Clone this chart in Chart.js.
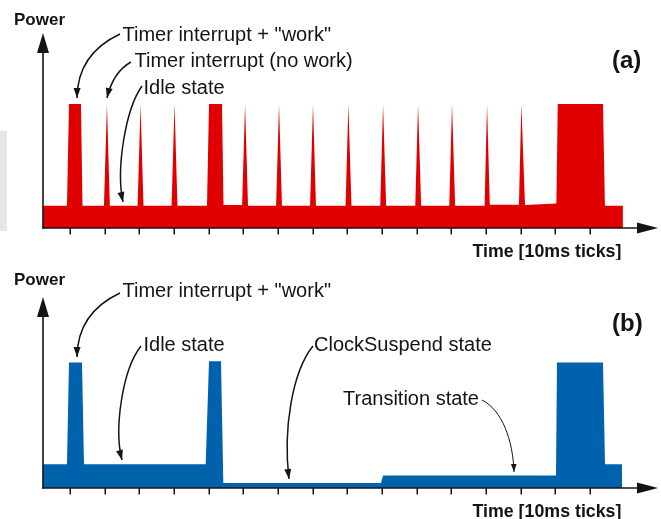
<!DOCTYPE html>
<html>
<head>
<meta charset="utf-8">
<script src="https://cdn.jsdelivr.net/npm/chart.js@4/dist/chart.umd.min.js"></script>
<style>
  html, body { margin: 0; padding: 0; background: #fff; }
  #page { position: relative; width: 661px; height: 519px; overflow: hidden; }
  canvas { position: absolute; left: 0; }
  #cA { top: 0; }
  #cB { top: 260px; }
  #edge { position: absolute; left: 0; top: 131px; width: 7px; height: 100px; background: #e6e6e6; }
</style>
</head>
<body>
<div id="page">
  <div id="edge"></div>
  <canvas id="cA" width="661" height="260"></canvas>
  <canvas id="cB" width="661" height="259"></canvas>
</div>
<script>
// Time in 10 ms ticks, power in relative units (active level = 100).
const TICKS = [1, 2, 3, 4, 5, 6, 7, 8, 9, 10, 11, 12, 13, 14, 15, 16];

// (a) periodic timer: every tick wakes the CPU, some ticks also do work
const TIME_A = [
  0.221, 0.221, 0.913, 0.971, 1.317, 1.361,
  1.98, 2.065, 2.15,
  2.95, 3.035, 3.12,
  3.93, 4.015, 4.10,
  4.952, 5.01, 5.385, 5.428,
  5.965, 6.05, 6.135,
  6.945, 7.03, 7.115,
  7.925, 8.01, 8.095,
  8.95, 9.03, 9.12,
  9.95, 10.03, 10.12,
  10.96, 11.04, 11.13,
  11.94, 12.02, 12.11,
  12.96, 13.03, 13.11,
  13.95, 14.02, 14.125,
  15.03, 15.07, 16.375, 16.43, 16.95, 16.95
];
const POWER_A = [
  0, 18, 18, 100, 100, 18,
  18, 100, 18,
  18, 100, 18,
  18, 100, 18,
  18, 100, 100, 18.5,
  18.5, 100, 18,
  18, 100, 18,
  18, 100, 18,
  18, 100, 18,
  18, 100, 18,
  18, 100, 18,
  18, 100, 18,
  18, 100, 18.8,
  18.8, 100, 18.5,
  19.8, 100, 100, 18, 18, 0
];

// (b) tickless: idle, then ClockSuspend, then a transition state before the next work
const TIME_B = [
  0.221, 0.221, 0.913, 0.971, 1.346, 1.404,
  4.914, 5.01, 5.356, 5.423,
  9.971, 10.029, 15.019, 15.048, 16.375, 16.433, 16.923, 16.923
];
const POWER_B = [
  0, 19, 19, 100, 100, 19,
  19, 101, 101, 4,
  4, 10, 10, 100, 100, 19, 19, 0
];

const RED = '#e10000';
const BLUE = '#0061ad';
const INK = '#141414';
const FONT = '"Liberation Sans", Arial, Helvetica, sans-serif';

function zipPoints(xs, ys) {
  return xs.map((x, i) => ({ x: x, y: ys[i] }));
}

function arrowHead(ctx, tx, ty, dx, dy, len, half) {
  const m = Math.hypot(dx, dy) || 1;
  const ux = dx / m, uy = dy / m;
  const bx = tx - ux * len, by = ty - uy * len;
  ctx.beginPath();
  ctx.moveTo(tx, ty);
  ctx.lineTo(bx - uy * half, by + ux * half);
  ctx.lineTo(bx + uy * half, by - ux * half);
  ctx.closePath();
  ctx.fill();
}

// Axes with arrowheads and tick marks under the time axis
const axesPlugin = {
  id: 'arrowAxes',
  afterDatasetsDraw(chart) {
    const ctx = chart.ctx;
    const { left, right, top, bottom } = chart.chartArea;
    const xs = chart.scales.x;
    ctx.save();
    ctx.strokeStyle = INK;
    ctx.fillStyle = INK;
    ctx.lineWidth = 1.6;
    ctx.beginPath();
    ctx.moveTo(left, bottom + 0.8);
    ctx.lineTo(left, top + 16);
    ctx.stroke();
    arrowHead(ctx, left, top, 0, -1, 20, 6);
    ctx.beginPath();
    ctx.moveTo(left - 0.8, bottom);
    ctx.lineTo(right - 18, bottom);
    ctx.stroke();
    arrowHead(ctx, right - 1.3, bottom, 1, 0, 21, 5.5);
    ctx.lineWidth = 1.5;
    TICKS.forEach(t => {
      const px = Math.round(xs.getPixelForValue(t)) + 0.25;
      ctx.beginPath();
      ctx.moveTo(px, bottom);
      ctx.lineTo(px, bottom + 6.5);
      ctx.stroke();
    });
    ctx.restore();
  }
};

// Labels and curved callout arrows
function notesPlugin(texts, arrows) {
  return {
    id: 'notes',
    afterDraw(chart) {
      const ctx = chart.ctx;
      ctx.save();
      ctx.textBaseline = 'alphabetic';
      ctx.textAlign = 'left';
      texts.forEach(t => {
        ctx.fillStyle = INK;
        ctx.font = (t.bold ? 'bold ' : '') + t.size + 'px ' + FONT;
        ctx.fillText(t.text, t.x, t.y);
      });
      arrows.forEach(a => {
        const p = a.p;
        ctx.strokeStyle = INK;
        ctx.fillStyle = INK;
        ctx.lineWidth = a.w;
        ctx.beginPath();
        ctx.moveTo(p[0], p[1]);
        ctx.bezierCurveTo(p[2], p[3], p[4], p[5], p[6], p[7]);
        ctx.stroke();
        arrowHead(ctx, p[6], p[7], p[6] - p[4], p[7] - p[5], a.len, a.half);
      });
      ctx.restore();
    }
  };
}

function makeChart(id, xs, ys, color, yMax, padTop, padBottom, texts, arrows) {
  return new Chart(document.getElementById(id), {
    type: 'line',
    data: {
      datasets: [{
        data: zipPoints(xs, ys),
        fill: 'origin',
        backgroundColor: color,
        borderColor: 'rgba(0,0,0,0)',
        borderWidth: 0,
        pointRadius: 0,
        tension: 0
      }]
    },
    options: {
      responsive: false,
      devicePixelRatio: 1,
      animation: false,
      events: [],
      layout: { padding: { left: 43, right: 1.67, top: padTop, bottom: padBottom } },
      plugins: { legend: { display: false }, tooltip: { enabled: false } },
      scales: {
        x: { type: 'linear', min: 0.2212, max: 18, display: false },
        y: { type: 'linear', min: 0, max: yMax, display: false }
      }
    },
    plugins: [axesPlugin, notesPlugin(texts, arrows)]
  });
}

makeChart('cA', TIME_A, POWER_A, RED, 157.3, 33, 32, [
  { text: 'Power', x: 14, y: 25, size: 17, bold: true },
  { text: 'Timer interrupt + "work"', x: 122.5, y: 40.5, size: 20 },
  { text: 'Timer interrupt (no work)', x: 134.5, y: 67, size: 20 },
  { text: 'Idle state', x: 143.5, y: 93.5, size: 20 },
  { text: '(a)', x: 612, y: 68, size: 24, bold: true },
  { text: 'Time [10ms ticks]', x: 472.5, y: 256.5, size: 17.8, bold: true }
], [
  { p: [120, 34, 91.7, 47.3, 77.3, 68.7, 77, 98], w: 1.5, len: 10, half: 3.5 },
  { p: [131, 62, 119, 68.7, 111, 80.7, 107, 98], w: 1.5, len: 10, half: 3.5 },
  { p: [142, 86, 125, 110, 116, 170, 123, 202], w: 1.5, len: 10, half: 3.5 }
]);

makeChart('cB', TIME_B, POWER_B, BLUE, 152.3, 37, 31, [
  { text: 'Power', x: 14, y: 25, size: 17, bold: true },
  { text: 'Timer interrupt + "work"', x: 122.5, y: 37.3, size: 20 },
  { text: 'Idle state', x: 143.5, y: 90.7, size: 20 },
  { text: 'ClockSuspend state', x: 314, y: 90.7, size: 20 },
  { text: '(b)', x: 612, y: 70.5, size: 24, bold: true },
  { text: 'Transition state', x: 343, y: 145, size: 20 },
  { text: 'Time [10ms ticks]', x: 472.5, y: 256.5, size: 17.8, bold: true }
], [
  { p: [120, 33, 91.7, 46.3, 77.3, 67.7, 77, 97], w: 1.5, len: 10, half: 3.5 },
  { p: [141, 86, 122, 110, 114, 170, 122, 200], w: 1.5, len: 10, half: 3.5 },
  { p: [313, 86, 292, 112, 283, 170, 289, 219], w: 1.5, len: 10, half: 3.5 },
  { p: [482, 140, 502, 150, 513, 180, 514, 212], w: 1, len: 8, half: 2.8 }
]);
</script>
</body>
</html>
